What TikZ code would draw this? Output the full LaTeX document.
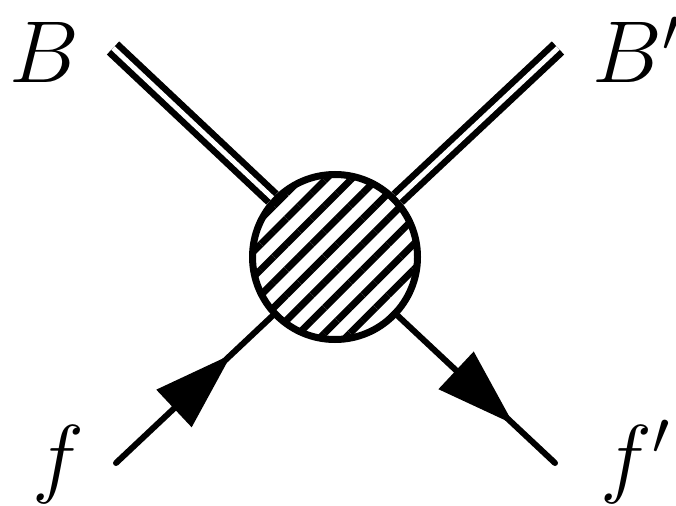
\documentclass[tikz,border=0pt]{standalone}
\usepackage{fix-cm}
\usepackage{amsmath,amssymb}
\usepackage{tikz}
\usepackage{xcolor}
\usetikzlibrary{arrows.meta,positioning,calc,patterns.meta,decorations.markings}
\definecolor{ink}{HTML}{000000}
\tikzset{
  blob/.style={circle, draw=ink, fill=white, line width=0.14cm, inner sep=0pt,
               minimum size=3.30cm,
               postaction={pattern={Lines[angle=45,distance=0.36cm,line width=0.14cm]}}},
  boson/.style={draw=ink, line width=0.13cm, double=white, double distance=0.1cm},
  fermion/.style={draw=ink, line width=0.12cm, line cap=round,
                  decoration={markings, mark=at position 0.74 with
                    {\arrow{Triangle[length=1.58cm,width=1.0cm]}}},
                  postaction={decorate}},
  leg/.style={inner sep=0pt, font=\fontsize{50}{60}\selectfont}
}
\begin{document}
\begin{tikzpicture}[x=1cm,y=1cm,>=Latex]
        \useasboundingbox (0,0) rectangle (13.52,10.10);
        % outer ends of the four legs
        \coordinate (b) at (2.26,9.14);
        \coordinate (bp) at (11.16,9.14);
        \coordinate (f) at (2.32,0.84);
        \coordinate (fp) at (11.10,0.84);
        \node[blob] (vx) at (6.70,4.96) {};
        \draw[boson] (b) -- (vx);
        \draw[boson] (bp) -- (vx);
        \draw[fermion] (f) -- (vx);
        \draw[fermion] (vx) -- (fp);
        % labels
        \node[leg,anchor=base west] (lb) at (0.18,8.44) {$B$};
        \node[leg,anchor=base west] (lbp) at (11.84,8.44) {$B'$};
        \node[leg,anchor=base west] (lf) at (0.64,0.38) {$f$};
        \node[leg,anchor=base west] (lfp) at (12.0,0.38) {$f'$};
      \end{tikzpicture}
\end{document}
